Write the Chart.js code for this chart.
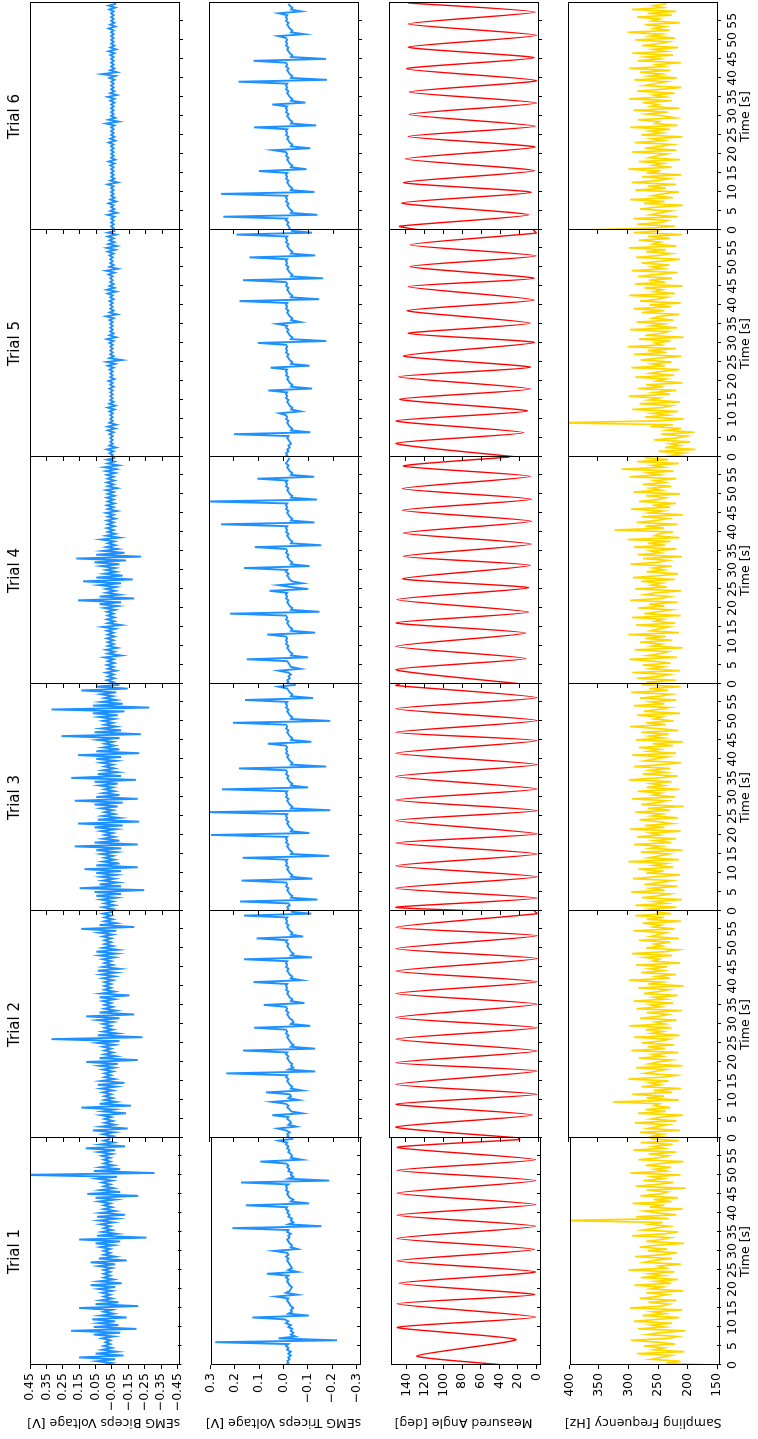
<!DOCTYPE html>
<html>
<head>
<meta charset="utf-8">
<title>EMG trials</title>
<script src="https://cdn.jsdelivr.net/npm/chart.js@4"></script>
<style>
  html, body { margin: 0; padding: 0; background: #fff; overflow: hidden; }
  /* figure is laid out landscape, then turned a quarter turn counter-clockwise */
  #fig { position: absolute; left: 0; top: 0; width: 1439px; height: 758px; background: #fff;
         transform-origin: 0 0; transform: translate(0, 1439px) rotate(-90deg); }
  #fig canvas { position: absolute; }
</style>
</head>
<body>
<div id="fig"></div>
<script>
// ---- axes ----
const TRIALS = ['Trial 1', 'Trial 2', 'Trial 3', 'Trial 4', 'Trial 5', 'Trial 6'];
const TIME_TICKS = [0, 5, 10, 15, 20, 25, 30, 35, 40, 45, 50, 55];
const T_MAX = 59.7;
const SAMPLE_STEP = 0.5; // seconds between stored samples
const BIC_TICKS = [0.45, 0.35, 0.25, 0.15, 0.05, -0.05, -0.15, -0.25, -0.35, -0.45];
const TRI_TICKS = [0.3, 0.2, 0.1, 0, -0.1, -0.2, -0.3];
const ANG_TICKS = [0, 20, 40, 60, 80, 100, 120, 140];
const FREQ_TICKS = [150, 200, 250, 300, 350, 400];

// ---- sEMG biceps [V], one sample every 0.5 s ----
const BIC1 = [
  0.00,-0.05,0.04,-0.07,0.15,-0.12,0.05,-0.08,0.01,-0.05,
  0.00,-0.04,-0.01,-0.04,0.01,-0.06,0.06,-0.10,0.20,-0.20,
  0.06,-0.09,0.03,-0.07,0.07,-0.14,0.02,-0.06,0.00,-0.05,
  0.15,-0.21,0.05,-0.09,0.02,-0.05,0.00,-0.04,0.01,-0.05,
  0.03,-0.07,0.08,-0.11,0.03,-0.06,0.00,-0.04,0.00,-0.04,
  0.00,-0.05,0.03,-0.07,0.08,-0.14,0.03,-0.07,0.00,-0.04,
  0.00,-0.04,0.02,-0.06,0.05,-0.10,0.15,-0.26,0.04,-0.08,
  0.01,-0.05,0.00,-0.04,0.02,-0.06,0.03,-0.08,0.04,-0.13,
  0.02,-0.07,0.00,-0.05,0.00,-0.04,0.03,-0.07,0.05,-0.21,
  0.10,-0.10,0.02,-0.06,0.00,-0.04,0.01,-0.05,0.04,-0.08,
  0.50,-0.31,0.06,-0.10,0.02,-0.06,0.00,-0.04,0.00,-0.04,
  0.01,-0.05,0.03,-0.07,0.11,-0.13,0.02,-0.06,0.00,-0.04];
const BIC2 = [
  0.00,-0.05,0.01,-0.06,0.07,-0.14,0.02,-0.06,0.00,-0.05,
  0.00,-0.04,0.02,-0.13,0.01,-0.06,0.14,-0.16,0.03,-0.07,
  0.00,-0.05,0.00,-0.04,0.01,-0.05,0.02,-0.07,0.04,-0.12,
  0.02,-0.06,0.00,-0.04,0.00,-0.05,0.01,-0.06,0.03,-0.08,
  0.11,-0.20,0.03,-0.07,0.00,-0.05,0.00,-0.04,0.01,-0.06,
  0.04,-0.09,0.32,-0.23,0.04,-0.08,0.01,-0.05,0.00,-0.04,
  0.01,-0.05,0.04,-0.09,0.11,-0.18,0.03,-0.07,0.00,-0.05,
  0.00,-0.04,0.01,-0.06,0.03,-0.15,0.02,-0.06,0.00,-0.04,
  0.00,-0.04,0.00,-0.05,0.01,-0.06,0.02,-0.07,0.04,-0.09,
  0.01,-0.05,0.00,-0.04,0.01,-0.06,0.03,-0.07,0.05,-0.08,
  0.01,-0.05,0.00,-0.04,0.00,-0.04,0.01,-0.05,0.03,-0.07,
  0.14,-0.18,0.03,-0.07,0.00,-0.05,0.00,-0.04,0.01,-0.05];
const BIC3 = [
  0.00,-0.05,0.01,-0.06,0.00,-0.05,0.02,-0.07,0.05,-0.10,
  0.06,-0.24,0.15,-0.10,0.03,-0.08,0.01,-0.06,0.02,-0.07,
  0.05,-0.10,0.12,-0.20,0.05,-0.09,0.01,-0.06,0.00,-0.05,
  0.02,-0.07,0.05,-0.10,0.18,-0.20,0.06,-0.09,0.01,-0.06,
  0.00,-0.05,0.02,-0.07,0.06,-0.11,0.16,-0.21,0.04,-0.09,
  0.01,-0.06,0.00,-0.05,0.02,-0.08,0.06,-0.11,0.18,-0.20,
  0.05,-0.09,0.01,-0.06,0.00,-0.05,0.03,-0.08,0.06,-0.19,
  0.20,-0.10,0.04,-0.08,0.01,-0.06,0.00,-0.05,0.02,-0.07,
  0.05,-0.10,0.16,-0.21,0.05,-0.09,0.01,-0.06,0.00,-0.05,
  0.04,-0.09,0.26,-0.22,0.06,-0.10,0.02,-0.07,0.00,-0.05,
  0.01,-0.06,0.03,-0.08,0.07,-0.12,0.32,-0.27,0.07,-0.11,
  0.02,-0.07,0.00,-0.05,0.02,-0.07,0.14,-0.14,0.05,-0.09];
const BIC4 = [
  -0.02,-0.055,-0.015,-0.06,-0.02,-0.055,-0.01,-0.07,-0.02,-0.055,
  -0.015,-0.06,-0.02,-0.055,0.0,-0.10,-0.02,-0.06,-0.01,-0.075,
  -0.02,-0.055,-0.02,-0.055,-0.015,-0.06,-0.02,-0.055,-0.015,-0.065,
  0.01,-0.10,-0.02,-0.06,-0.015,-0.06,-0.02,-0.055,-0.015,-0.065,
  0.0,-0.08,0.03,-0.10,0.16,-0.18,0.03,-0.09,-0.01,-0.065,
  -0.01,-0.07,0.03,-0.10,0.13,-0.17,0.05,-0.11,0.0,-0.07,
  -0.01,-0.065,0.02,-0.09,0.06,-0.13,0.17,-0.22,0.05,-0.12,
  0.01,-0.08,-0.01,-0.065,-0.02,-0.06,0.02,-0.09,-0.01,-0.065,
  -0.02,-0.055,-0.015,-0.06,-0.02,-0.055,-0.015,-0.065,-0.02,-0.055,
  -0.01,-0.075,-0.02,-0.055,-0.015,-0.06,-0.02,-0.055,-0.015,-0.06,
  -0.02,-0.055,-0.01,-0.075,-0.02,-0.055,-0.015,-0.06,-0.02,-0.055,
  -0.015,-0.065,-0.01,-0.07,0.0,-0.085,-0.02,-0.06,-0.015,-0.065];
const BIC5 = [
  -0.035,-0.05,-0.03,-0.055,-0.015,-0.07,-0.03,-0.05,-0.035,-0.05,
  -0.035,-0.05,-0.03,-0.055,-0.02,-0.065,-0.02,-0.07,-0.03,-0.05,
  -0.035,-0.05,-0.035,-0.05,-0.03,-0.06,-0.02,-0.065,-0.03,-0.055,
  -0.035,-0.05,-0.035,-0.05,-0.035,-0.05,-0.03,-0.055,-0.035,-0.05,
  -0.025,-0.06,-0.035,-0.05,-0.035,-0.05,-0.03,-0.055,-0.02,-0.065,
  -0.015,-0.105,-0.03,-0.055,-0.035,-0.05,-0.035,-0.05,-0.035,-0.05,
  -0.03,-0.055,-0.015,-0.07,-0.03,-0.055,-0.035,-0.05,-0.035,-0.05,
  -0.035,-0.05,-0.03,-0.055,-0.01,-0.075,-0.03,-0.055,-0.035,-0.05,
  -0.035,-0.05,-0.03,-0.055,-0.035,-0.05,-0.02,-0.07,-0.015,-0.06,
  -0.03,-0.055,-0.035,-0.05,-0.035,-0.05,-0.025,-0.06,-0.01,-0.08,
  -0.03,-0.055,-0.035,-0.05,-0.035,-0.05,-0.03,-0.055,-0.02,-0.065,
  -0.015,-0.075,-0.025,-0.06,-0.03,-0.055,-0.02,-0.07,-0.02,-0.065];
const BIC6 = [
  -0.04,-0.055,-0.04,-0.055,-0.04,-0.055,-0.04,-0.06,-0.02,-0.075,
  -0.035,-0.06,-0.04,-0.055,-0.025,-0.07,-0.035,-0.06,-0.04,-0.055,
  -0.04,-0.055,-0.04,-0.055,-0.02,-0.08,-0.035,-0.06,-0.04,-0.055,
  -0.04,-0.055,-0.04,-0.055,-0.035,-0.06,-0.025,-0.065,-0.04,-0.055,
  -0.04,-0.055,-0.04,-0.055,-0.04,-0.055,-0.025,-0.065,-0.035,-0.06,
  -0.04,-0.055,-0.04,-0.055,-0.04,-0.06,-0.01,-0.085,-0.025,-0.065,
  -0.04,-0.055,-0.04,-0.055,-0.04,-0.055,-0.04,-0.06,-0.035,-0.06,
  -0.02,-0.075,-0.035,-0.06,-0.04,-0.055,-0.04,-0.055,-0.04,-0.06,
  -0.03,-0.065,0.015,-0.075,-0.035,-0.06,-0.04,-0.055,-0.04,-0.055,
  -0.04,-0.055,-0.035,-0.06,-0.025,-0.07,-0.035,-0.06,-0.04,-0.055,
  -0.04,-0.055,-0.04,-0.055,-0.04,-0.055,-0.025,-0.065,-0.035,-0.06,
  -0.04,-0.055,-0.04,-0.055,-0.04,-0.055,-0.03,-0.065,-0.025,-0.07];

// ---- sEMG triceps [V], one sample every 0.5 s ----
const TRI1 = [
  -0.01,-0.02,-0.015,-0.025,-0.02,-0.03,-0.02,-0.03,-0.015,-0.02,
  -0.01,-0.02,0.28,-0.22,0.02,-0.05,-0.03,-0.04,-0.03,-0.035,
  -0.02,-0.03,-0.01,-0.02,-0.005,0.128,-0.104,-0.02,-0.035,-0.03,
  -0.04,-0.03,-0.025,-0.02,-0.015,-0.02,0.032,-0.057,-0.01,-0.025,
  -0.03,-0.035,-0.025,-0.02,-0.015,-0.02,-0.01,-0.02,0.068,-0.057,
  -0.02,-0.035,-0.03,-0.025,-0.02,-0.015,-0.02,-0.01,-0.02,-0.015,
  0.039,-0.058,-0.03,-0.035,-0.025,-0.02,-0.015,-0.025,-0.02,-0.03,
  -0.015,-0.02,0.21,-0.156,-0.02,-0.04,-0.03,-0.035,-0.02,-0.025,
  -0.015,-0.02,-0.01,-0.015,0.155,-0.105,-0.03,-0.04,-0.025,-0.02,
  -0.015,-0.02,-0.01,-0.015,-0.01,-0.02,0.175,-0.188,-0.02,-0.04,
  -0.03,-0.035,-0.02,-0.025,-0.015,-0.02,-0.01,0.095,-0.075,-0.03,
  -0.035,-0.03,-0.02,-0.025,-0.015,-0.02,-0.01,-0.015,0.02,-0.04];
const TRI2 = [
  -0.01,-0.02,-0.015,-0.025,-0.01,0.023,-0.052,-0.02,-0.03,-0.025,
  -0.015,-0.02,0.045,-0.075,-0.03,-0.025,-0.015,-0.02,-0.01,0.045,
  -0.06,-0.02,-0.03,-0.025,0.07,-0.076,-0.03,-0.035,-0.025,-0.02,
  -0.015,-0.02,-0.01,-0.015,0.23,-0.128,-0.02,-0.04,-0.03,-0.035,
  -0.025,-0.02,-0.015,-0.02,-0.01,-0.015,0.163,-0.128,-0.03,-0.04,
  -0.03,-0.025,-0.02,-0.015,-0.02,-0.01,-0.015,-0.01,0.119,-0.108,
  -0.03,-0.04,-0.035,-0.025,-0.02,-0.015,-0.02,-0.01,-0.015,-0.01,
  0.079,-0.084,-0.03,-0.035,-0.025,-0.02,-0.015,-0.02,-0.01,-0.015,
  -0.01,-0.015,0.121,-0.072,-0.03,-0.035,-0.025,-0.02,-0.015,-0.02,
  -0.01,-0.015,-0.01,-0.015,0.159,-0.115,-0.03,-0.04,-0.03,-0.025,
  -0.02,-0.015,-0.02,-0.01,-0.015,0.108,-0.079,-0.03,-0.035,-0.025,
  -0.02,-0.015,-0.02,-0.01,-0.015,-0.01,-0.015,0.159,-0.112,-0.03];
const TRI3 = [
  -0.01,-0.02,-0.015,-0.025,-0.02,0.175,-0.137,-0.03,-0.035,-0.025,
  -0.02,-0.015,-0.02,-0.01,-0.015,-0.01,0.169,-0.116,-0.03,-0.035,
  -0.025,-0.02,-0.015,-0.02,-0.01,-0.015,-0.01,-0.015,0.165,-0.184,
  -0.03,-0.035,-0.025,-0.02,-0.015,-0.02,-0.01,-0.015,-0.01,-0.015,
  0.292,-0.104,-0.03,-0.035,-0.025,-0.02,-0.015,-0.02,-0.01,-0.015,
  -0.01,-0.015,0.31,-0.188,-0.03,-0.035,-0.025,-0.02,-0.015,-0.02,
  -0.01,-0.015,-0.01,-0.015,0.248,-0.099,-0.03,-0.035,-0.025,-0.02,
  -0.015,-0.02,-0.01,-0.015,-0.01,0.179,-0.172,-0.03,-0.035,-0.025,
  -0.02,-0.015,-0.02,-0.01,-0.015,-0.01,-0.015,-0.01,0.063,-0.112,
  -0.03,-0.035,-0.025,-0.02,-0.015,-0.02,-0.01,-0.015,-0.01,0.203,
  -0.188,-0.03,-0.035,-0.025,-0.02,-0.015,-0.02,-0.01,-0.015,-0.01,
  -0.015,0.155,-0.119,-0.03,-0.035,-0.025,-0.02,-0.015,0.02,-0.05];
const TRI4 = [
  -0.01,-0.02,-0.015,-0.025,-0.02,-0.03,-0.02,0.02,-0.068,-0.03,
  -0.025,-0.02,-0.015,0.148,-0.099,-0.03,-0.035,-0.025,-0.02,-0.015,
  -0.02,-0.01,-0.015,-0.01,-0.015,-0.01,0.065,-0.128,-0.03,-0.035,
  -0.025,-0.02,-0.015,-0.02,-0.01,-0.015,-0.01,0.215,-0.145,-0.03,
  -0.035,-0.025,-0.02,-0.015,-0.02,-0.01,-0.015,-0.01,-0.015,0.056,
  -0.099,-0.03,0.02,-0.075,-0.035,-0.025,-0.02,-0.015,-0.02,-0.01,
  -0.015,0.159,-0.105,-0.03,-0.035,-0.025,-0.02,-0.015,-0.02,-0.01,
  -0.015,-0.01,0.116,-0.152,-0.03,-0.035,-0.025,-0.02,-0.015,-0.02,
  -0.01,-0.015,-0.01,-0.015,0.252,-0.125,-0.03,-0.035,-0.025,-0.02,
  -0.015,-0.02,-0.01,-0.015,-0.01,-0.015,0.31,-0.135,-0.03,-0.035,
  -0.025,-0.02,-0.015,-0.02,-0.01,-0.015,-0.01,-0.015,0.105,-0.124,
  -0.03,-0.035,-0.025,-0.02,-0.015,-0.02,-0.01,-0.015,-0.02,-0.025];
const TRI5 = [
  -0.005,-0.015,-0.01,-0.02,-0.015,-0.025,-0.02,-0.03,-0.025,-0.02,
  -0.015,-0.02,0.199,-0.108,-0.03,-0.035,-0.025,-0.02,-0.015,-0.02,
  -0.01,-0.015,-0.01,0.016,-0.068,-0.03,-0.035,-0.025,-0.02,-0.015,
  -0.02,-0.01,-0.015,-0.01,-0.015,0.061,-0.115,-0.03,-0.035,-0.025,
  -0.02,-0.015,-0.02,-0.01,-0.015,-0.01,-0.015,0.052,-0.105,-0.03,
  -0.035,-0.025,-0.02,-0.015,-0.02,-0.01,-0.015,-0.01,-0.015,-0.01,
  0.103,-0.172,-0.03,-0.035,-0.025,-0.02,-0.015,-0.02,-0.01,-0.015,
  0.025,-0.068,-0.03,-0.035,-0.025,-0.02,-0.015,-0.02,-0.01,-0.015,
  -0.01,-0.015,0.177,-0.144,-0.03,-0.035,-0.025,-0.02,-0.015,-0.02,
  -0.01,-0.015,-0.01,0.163,-0.159,-0.03,-0.035,-0.025,-0.02,-0.015,
  -0.02,-0.01,-0.015,-0.01,-0.015,0.137,-0.128,-0.03,-0.035,-0.025,
  -0.02,-0.015,-0.02,-0.01,-0.015,-0.01,-0.015,0.189,-0.115,-0.03];
const TRI6 = [
  -0.02,-0.025,-0.02,-0.015,-0.02,-0.01,-0.015,0.243,-0.137,-0.03,
  -0.035,-0.025,-0.02,-0.015,-0.02,-0.01,-0.015,-0.01,-0.015,0.252,
  -0.125,-0.03,-0.035,-0.025,-0.02,-0.015,-0.02,-0.01,-0.015,-0.01,
  -0.015,0.099,-0.092,-0.03,-0.035,-0.025,-0.02,-0.015,-0.02,-0.01,
  -0.015,-0.01,0.041,-0.108,-0.03,-0.035,-0.025,-0.02,-0.015,-0.02,
  -0.01,-0.015,-0.01,-0.015,0.119,-0.132,-0.03,-0.035,-0.025,-0.02,
  -0.015,-0.02,-0.01,-0.015,-0.01,-0.015,0.045,-0.088,-0.03,-0.035,
  -0.025,-0.02,-0.015,-0.02,-0.01,-0.015,-0.01,-0.015,0.181,-0.175,
  -0.03,-0.035,-0.025,-0.02,-0.015,-0.02,-0.01,-0.015,-0.01,0.121,
  -0.171,-0.03,-0.035,-0.025,-0.02,-0.015,-0.02,-0.01,-0.015,-0.01,
  -0.015,-0.01,0.021,-0.084,-0.03,-0.035,-0.025,-0.02,-0.015,-0.02,
  -0.01,-0.015,-0.01,-0.015,0.019,-0.071,-0.03,-0.035,-0.025,-0.02];

// ---- measured elbow angle [deg]: turning points (time [s], angle) ----
const ANG_T1 = [0, 2.4, 6.7, 9.9, 12.6, 16.1, 18.5, 21.5, 24.5, 27.4, 30.4, 33.3, 36.5, 39.4, 42.2, 45.2, 48.5, 51.2, 54.0, 57.2, 59.3, 59.7];
const ANG_V1 = [35, 129, 22, 150, 1, 150, 2, 148, 1, 150, 2, 150, 1, 150, 1, 150, 1, 150, 1, 150, 18, 20];
const ANG_T2 = [0, 2.9, 6.05, 8.9, 11.5, 14.1, 17.6, 19.8, 22.9, 26.0, 29.0, 31.7, 35.2, 38.0, 41.1, 43.9, 47.2, 49.8, 53.2, 55.4, 59.0, 59.7];
const ANG_V2 = [19, 150, 6, 150, 1, 150, 1, 150, 1, 150, 1, 150, 1, 150, 1, 150, 1, 150, 1, 150, 1, 4];
const ANG_T3 = [0, 1.0, 3.4, 6.0, 9.0, 11.9, 15.0, 17.9, 20.3, 23.8, 26.4, 29.2, 32.1, 35.4, 38.5, 41.5, 44.8, 47.0, 50.1, 53.2, 56.1, 59.3, 59.7];
const ANG_V3 = [60, 150, 1, 150, 1, 150, 1, 150, 1, 150, 1, 150, 1, 150, 1, 150, 1, 150, 1, 150, 1, 150, 146];
const ANG_T4 = [0, 3.8, 6.7, 9.9, 13.4, 16.1, 18.9, 22.2, 25.3, 27.7, 31.2, 33.6, 36.8, 39.7, 42.8, 45.7, 48.6, 51.4, 54.6, 57.3, 59.7];
const ANG_V4 = [17, 150, 13, 150, 13, 150, 10, 149, 10, 143, 8, 142, 7, 142, 7, 143, 7, 143, 8, 142, 30];
const ANG_T5 = [0, 3.6, 6.4, 9.5, 12.1, 15.2, 17.9, 21.1, 23.6, 26.6, 30.1, 32.5, 35.2, 38.5, 41.3, 44.8, 47.0, 50.1, 52.9, 55.8, 58.9, 59.7];
const ANG_V5 = [22, 150, 15, 150, 11, 146, 8, 147, 8, 142, 4, 137, 8, 138, 4, 137, 4, 135, 2, 135, 2, 5];
const ANG_T6 = [0, 1.0, 4.0, 7.1, 9.9, 12.5, 15.6, 18.7, 21.8, 24.6, 27.3, 30.4, 33.4, 36.3, 39.3, 42.4, 45.3, 48.1, 51.2, 54.2, 57.3, 59.7];
const ANG_V6 = [125, 146, 10, 144, 7, 142, 4, 140, 3, 137, 3, 136, 1.5, 136, 1.5, 139, 4, 137, 1.5, 137, 3, 137];

// ---- sampling frequency [Hz], one sample every 0.5 s ----
const FREQ1 = [
  155,236,212,262,244,228,286,205,258,240,
  274,221,250,296,232,216,268,247,203,284,
  239,262,226,291,250,214,276,238,259,209,
  298,244,231,266,219,281,252,235,270,207,
  262,243,290,228,254,216,279,240,264,222,
  300,237,249,211,273,258,226,289,243,218,
  267,234,281,252,206,270,245,229,294,238,
  216,276,255,231,263,242,420,232,287,219,
  251,272,208,264,239,293,227,257,216,280,
  246,234,269,203,288,252,224,275,241,260,
  212,297,236,255,228,271,244,207,283,249,
  233,266,219,292,240,258,225,279,214,262];
const FREQ2 = [
  226,258,241,279,212,266,249,233,288,218,
  261,244,207,283,236,270,228,255,247,325,
  214,268,239,292,225,256,210,277,246,262,
  231,299,240,219,271,253,236,286,208,264,
  249,227,281,242,258,215,294,237,266,222,
  276,245,230,289,213,259,241,270,226,297,
  238,253,218,279,247,232,268,209,285,244,
  261,224,290,237,256,216,273,248,231,282,
  206,265,243,298,229,251,219,277,240,263,
  234,286,212,258,247,271,225,293,238,216,
  269,242,255,228,281,214,262,249,236,290,
  221,257,244,275,210,268,239,287,227,252];
const FREQ3 = [
  241,263,218,287,235,256,209,276,248,229,
  294,238,261,216,272,244,226,291,253,212,
  268,240,282,223,257,236,299,214,265,247,
  230,278,208,261,243,289,227,254,219,284,
  246,262,211,296,238,271,225,249,280,215,
  259,242,287,229,266,206,277,251,234,293,
  220,257,244,283,213,268,239,260,226,298,
  248,216,275,237,262,228,289,243,210,271,
  254,233,292,219,265,246,281,224,258,207,
  286,240,263,231,277,215,250,296,236,269,
  223,255,242,284,212,273,249,230,290,238,
  261,218,279,245,227,294,232,264,211,276];
const FREQ4 = [
  236,268,219,284,247,230,292,212,262,241,
  275,228,256,297,217,266,245,232,288,208,
  259,243,279,225,270,236,299,214,261,248,
  231,286,220,254,240,293,211,272,249,227,
  282,238,264,216,296,245,229,271,252,210,
  287,234,260,243,277,221,291,246,215,268,
  239,257,226,295,250,232,274,209,283,244,
  261,218,289,237,266,228,300,213,255,247,
  224,322,239,270,216,285,251,233,276,207,
  263,242,294,229,258,219,281,248,236,269,
  212,290,244,261,227,275,238,254,218,297,
  246,266,223,310,240,259,214,284,232,271];
const FREQ5 = [
  190,226,205,248,186,237,212,229,195,256,
  218,201,244,188,233,210,262,224,430,248,
  206,271,233,258,215,292,241,226,280,212,
  264,247,298,229,255,218,283,240,269,208,
  251,236,287,222,262,244,213,294,237,259,
  226,278,248,210,289,235,266,219,300,243,
  254,228,281,206,270,245,232,296,217,261,
  240,285,223,258,247,213,276,238,290,227,
  263,211,279,249,234,297,220,256,242,272,
  208,288,237,264,225,283,251,216,293,239,
  259,230,276,244,212,286,248,227,269,236,
  298,218,257,245,281,229,266,209,290,247];
const FREQ6 = [
  380,258,221,284,243,233,290,216,262,247,
  228,279,252,207,273,238,296,224,259,241,
  214,287,236,266,219,293,249,231,276,210,
  268,245,299,226,257,240,281,212,264,250,
  234,292,218,271,246,225,288,239,259,208,
  277,242,263,229,296,216,254,247,283,220,
  240,268,232,290,213,261,249,275,226,298,
  237,256,221,284,244,210,272,253,235,289,
  217,264,242,279,228,297,238,251,211,283,
  246,269,224,292,236,258,215,276,249,231,
  287,220,262,243,300,229,255,238,271,212,
  259,247,284,226,266,218,293,241,257,235];

// ---- layout (landscape coordinates, before the quarter turn) ----
const FIG_H = 758;
const COL_X = [74, 301, 528, 755, 982, 1209];
const ROW_Y = [30, 209, 389, 568];
const PANEL_W = 227, PANEL_H = 149;
const FONT = 'DejaVu Sans';
const MINUS = '\u2212';

const sampled = vals => vals.map((v, i) => ({ x: i * SAMPLE_STEP, y: v }));
const paired = (ts, vs) => ts.map((t, i) => ({ x: t, y: vs[i] }));
const signed = (v, d) => (v < 0 ? MINUS : '') + Math.abs(v).toFixed(d);

const ROWS = [
  { label: 'sEMG Biceps Voltage [V]', min: -0.45, max: 0.45, ticks: BIC_TICKS, fmt: v => signed(v, 2),
    color: '#1e90ff', width: 1.9, tension: 0,
    series: [BIC1, BIC2, BIC3, BIC4, BIC5, BIC6].map(sampled) },
  { label: 'sEMG Triceps Voltage [V]', min: -0.3, max: 0.3, ticks: TRI_TICKS, fmt: v => signed(v, 1),
    color: '#1e90ff', width: 1.9, tension: 0,
    series: [TRI1, TRI2, TRI3, TRI4, TRI5, TRI6].map(sampled) },
  { label: 'Measured Angle [deg]', min: 0, max: 157.3, ticks: ANG_TICKS, fmt: v => String(v),
    color: '#ff0000', width: 1.4, tension: 0.2,
    series: [paired(ANG_T1, ANG_V1), paired(ANG_T2, ANG_V2), paired(ANG_T3, ANG_V3),
             paired(ANG_T4, ANG_V4), paired(ANG_T5, ANG_V5), paired(ANG_T6, ANG_V6)] },
  { label: 'Sampling Frequency [Hz]', min: 150, max: 400, ticks: FREQ_TICKS, fmt: v => String(v),
    color: '#ffd700', width: 1.7, tension: 0,
    series: [FREQ1, FREQ2, FREQ3, FREQ4, FREQ5, FREQ6].map(sampled) }
];

// box round each plot area (right/bottom edges land on the neighbour's edge),
// plus the trial name centred above the top row
const framePlugin = {
  id: 'frame',
  afterDatasetsDraw(chart, args, opts) {
    const { ctx, chartArea: a } = chart;
    const l = Math.round(a.left), t = Math.round(a.top);
    ctx.save();
    ctx.strokeStyle = '#000';
    ctx.lineWidth = 1;
    ctx.strokeRect(l + 0.5, t + 0.5, PANEL_W, PANEL_H);
    if (opts.title) {
      ctx.fillStyle = '#000';
      ctx.font = '15px "' + FONT + '"';
      ctx.textAlign = 'center';
      ctx.textBaseline = 'middle';
      ctx.fillText(opts.title, l + PANEL_W / 2, t - 15);
    }
    ctx.restore();
  }
};

const fig = document.getElementById('fig');

function buildPanel(r, k) {
  const row = ROWS[r];
  const first = k === 0, top = r === 0, bottom = r === ROWS.length - 1;
  const padL = first ? COL_X[0] : 10;
  const padT = top ? ROW_Y[0] : 10;
  const padR = 6;
  const padB = bottom ? FIG_H - (ROW_Y[r] + PANEL_H) : 10;
  const w = padL + PANEL_W + padR, h = padT + PANEL_H + padB;

  const cv = document.createElement('canvas');
  cv.width = w; cv.height = h;
  cv.style.width = w + 'px'; cv.style.height = h + 'px';
  cv.style.left = (COL_X[k] - padL) + 'px';
  cv.style.top = (ROW_Y[r] - padT) + 'px';
  fig.appendChild(cv);

  const tickGrid = { display: true, drawOnChartArea: false, drawTicks: true, tickLength: 4,
                     color: '#000', lineWidth: 1 };
  const tickFont = { family: FONT, size: 12.5 };
  const labelFont = { family: FONT, size: 12.5, lineHeight: 1.2 };

  new Chart(cv, {
    type: 'line',
    data: {
      datasets: [{
        data: row.series[k],
        borderColor: row.color,
        borderWidth: row.width,
        pointRadius: 0,
        tension: row.tension,
        fill: false,
        clip: 0
      }]
    },
    options: {
      responsive: false,
      animation: false,
      events: [],
      parsing: false,
      normalized: true,
      layout: { autoPadding: false, padding: { left: 0, top: padT, right: padR, bottom: 0 } },
      plugins: {
        legend: { display: false },
        tooltip: { enabled: false },
        title: { display: false },
        frame: { title: top ? TRIALS[k] : '' }
      },
      scales: {
        x: {
          type: 'linear',
          min: 0,
          max: T_MAX,
          afterBuildTicks: s => { s.ticks = TIME_TICKS.map(v => ({ value: v })); },
          afterFit: s => { s.height = padB; },
          grid: tickGrid,
          border: { display: false },
          ticks: { display: bottom, color: '#000', font: tickFont, padding: 4, maxRotation: 0, autoSkip: false,
                   callback: v => String(v) },
          title: { display: bottom, text: 'Time [s]', color: '#000', font: labelFont,
                   padding: { top: 0, bottom: 5 } }
        },
        y: {
          type: 'linear',
          min: row.min,
          max: row.max,
          afterBuildTicks: s => { s.ticks = row.ticks.map(v => ({ value: v })); },
          afterFit: s => { s.width = padL; },
          grid: tickGrid,
          border: { display: false },
          ticks: { display: first, color: '#000', font: tickFont, padding: 4, autoSkip: false,
                   callback: v => row.fmt(v) },
          title: { display: first, text: row.label, color: '#000', font: labelFont,
                   padding: { top: 9, bottom: 0 } }
        }
      }
    },
    plugins: [framePlugin]
  });
}

for (let r = 0; r < ROWS.length; r++) {
  for (let k = 0; k < TRIALS.length; k++) buildPanel(r, k);
}
</script>
</body>
</html>
